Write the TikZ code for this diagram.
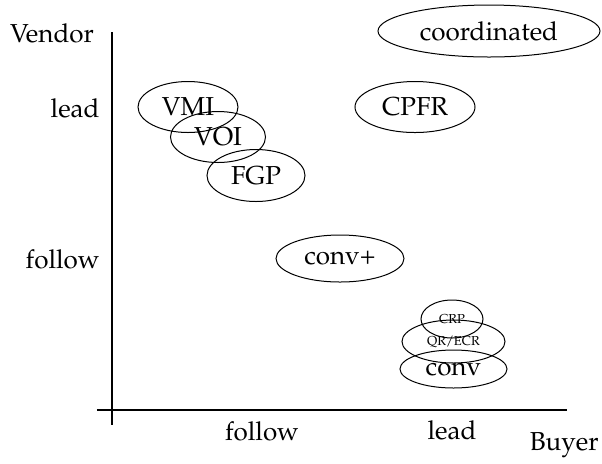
\documentclass[tikz,border=0pt]{standalone}
\usepackage[T1]{fontenc}
\usepackage{mathpazo}
\usetikzlibrary{shapes.geometric}
\tikzset{
  blob/.style={draw, ellipse, inner sep=0pt, line width=0.5pt, font=\fontsize{13}{15}\selectfont},
  smallblob/.style={blob, font=\fontsize{6.5}{8}\selectfont},
  axis/.style={line width=1pt},
  lab/.style={inner sep=0pt, font=\fontsize{13}{15}\selectfont},
}
\begin{document}
\begin{tikzpicture}[x=0.5pt,y=-0.5pt]
\useasboundingbox (0,0) rectangle (602,463);
% axes
\coordinate (ytop) at (112,32);
\coordinate (ybot) at (112,425);
\coordinate (xl) at (97,410);
\coordinate (xr) at (567,410);
\draw[axis] (ytop) -- (ybot);
\draw[axis] (xl) -- (xr);
% axis labels
\node[lab, anchor=base] (vendor) at (52,42) {Vendor};
\node[lab, anchor=base east] (vlead) at (100,117) {lead};
\node[lab, anchor=base east] (vfollow) at (100,268) {follow};
\node[lab, anchor=base] (bfollow) at (262,440) {follow};
\node[lab, anchor=base] (blead) at (452,439) {lead};
\node[lab, anchor=base east] (buyer) at (599,450) {Buyer};
% ellipses
\node[blob, minimum width=111pt, minimum height=26pt] (coord) at (489,31) {coordinated};
\node[blob, minimum width=60pt, minimum height=25.5pt] (cpfr) at (415,107) {CPFR};
\node[blob, minimum width=50pt, minimum height=25.5pt] (vmi) at (188,107) {VMI};
\node[blob, minimum width=47.5pt, minimum height=25.5pt] (voi) at (218,137) {VOI};
\node[blob, minimum width=49pt, minimum height=26pt] (fgp) at (256,175.5) {FGP};
\node[blob, minimum width=64pt, minimum height=23.5pt] (convp) at (340,258.5) {conv+};
\node[smallblob, minimum width=31pt, minimum height=19pt] (crp) at (452,319) {CRP};
\node[smallblob, minimum width=51.5pt, minimum height=21.5pt] (qr) at (453.5,341.5) {QR/ECR};
\node[blob, minimum width=53.5pt, minimum height=19pt] (conv) at (453.5,369) {conv};
\end{tikzpicture}
\end{document}
